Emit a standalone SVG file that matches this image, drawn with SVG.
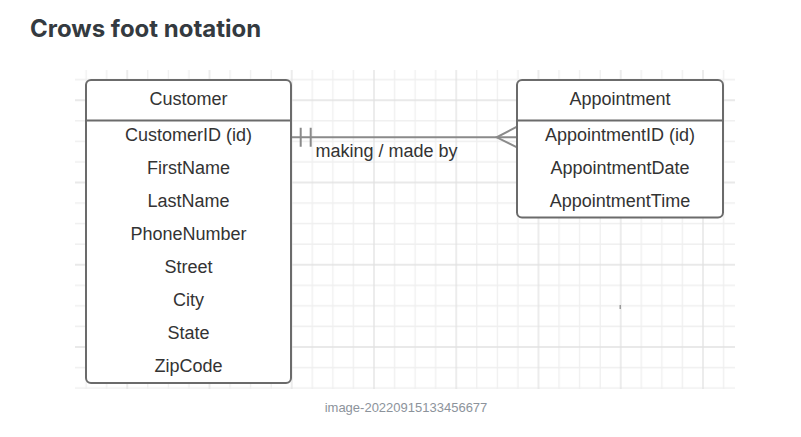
<svg xmlns="http://www.w3.org/2000/svg" width="801" height="437" viewBox="0 0 801 437">
<style>
.t{font-family:"Liberation Sans",Arial,sans-serif;font-size:18px;fill:#333;text-anchor:middle}
.box{fill:#fff;stroke:#6b6b6b;stroke-width:2}
.div{stroke:#6b6b6b;stroke-width:2}
.conn{stroke:#8a8a8a;stroke-width:2;fill:none}
</style>
<defs>
<pattern id="grid" x="44" y="17" width="82.25" height="82.25" patternUnits="userSpaceOnUse">
<path d="M21.56 0V82.25M42.125 0V82.25M62.69 0V82.25M0 21.56H82.25M0 42.125H82.25M0 62.69H82.25" stroke="#efefef" stroke-width="1.3" fill="none"/>
<path d="M1 0V82.25M0 1H82.25" stroke="#e2e2e2" stroke-width="1.3" fill="none"/>
</pattern>
</defs>
<rect width="801" height="437" fill="#fff"/>
<text x="30" y="37" font-family="Inter,'Open Sans',sans-serif" font-weight="700" font-size="24" fill="#343a40">Crows foot notation</text>
<rect x="75" y="70" width="660" height="319" fill="url(#grid)"/>
<rect x="619.5" y="305" width="1.5" height="4" fill="#999"/>
<g id="connectors">
<path class="conn" d="M291 137.3H517"/>
<path class="conn" d="M300.7 127.7V146.7M310.7 127.7V146.7"/>
<path class="conn" d="M517 126.7L496.7 137.3L517 147.3"/>
<text x="315.5" y="156.5" class="t" style="text-anchor:start">making / made by</text>
</g>
<g id="customer">
<rect class="box" x="86" y="80" width="205" height="303" rx="5"/>
<path class="div" d="M86 120.5H291"/>
<text class="t" x="188.5" y="105">Customer</text>
<text class="t" x="188.5" y="141">CustomerID (id)</text>
<text class="t" x="188.5" y="174">FirstName</text>
<text class="t" x="188.5" y="207">LastName</text>
<text class="t" x="188.5" y="240">PhoneNumber</text>
<text class="t" x="188.5" y="273">Street</text>
<text class="t" x="188.5" y="306">City</text>
<text class="t" x="188.5" y="339">State</text>
<text class="t" x="188.5" y="372">ZipCode</text>
</g>
<g id="appointment">
<rect class="box" x="517" y="80" width="206" height="137.5" rx="5"/>
<path class="div" d="M517 120.5H723"/>
<text class="t" x="620" y="105">Appointment</text>
<text class="t" x="620" y="141">AppointmentID (id)</text>
<text class="t" x="620" y="174">AppointmentDate</text>
<text class="t" x="620" y="207">AppointmentTime</text>
</g>
<text x="406" y="411.5" font-family="'Liberation Sans',Arial,sans-serif" font-size="13" fill="#8c939b" text-anchor="middle">image-20220915133456677</text>
</svg>
